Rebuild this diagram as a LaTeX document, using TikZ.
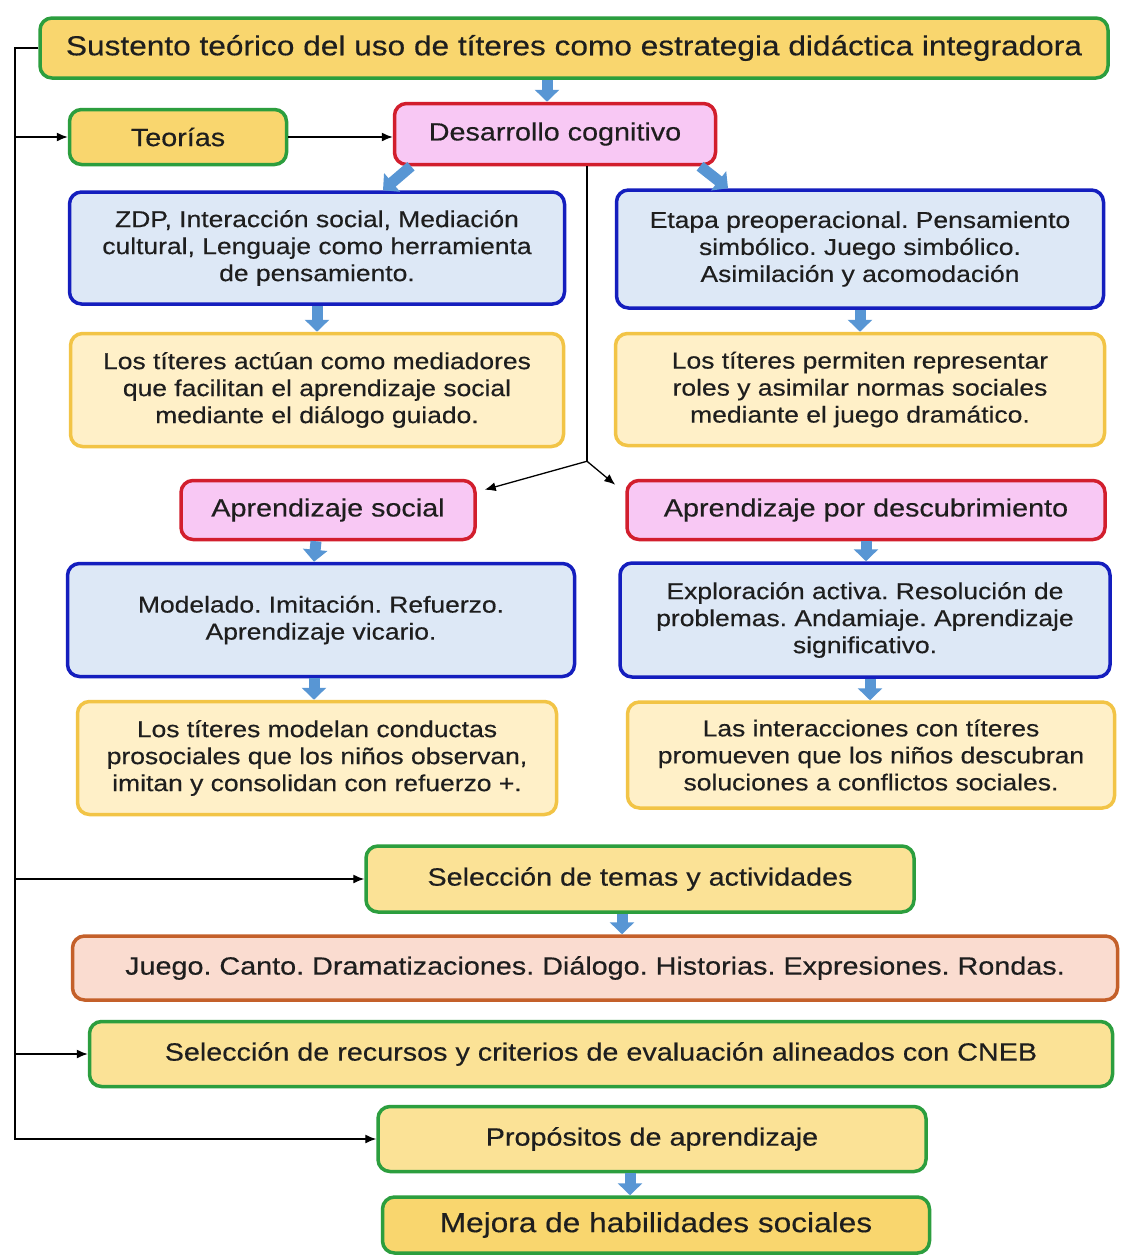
\documentclass[tikz,border=0pt]{standalone}
\usepackage{fontspec}
\setmainfont{Liberation Sans}[FakeStretch=1.15, FakeBold=0.4]
\usepackage{tikz}
\usetikzlibrary{arrows, arrows.meta, positioning, shapes}
\frenchspacing

\definecolor{boxgreen}{RGB}{44,158,62}
\definecolor{gold}{RGB}{249,214,110}
\definecolor{paleg}{RGB}{251,226,150}
\definecolor{boxred}{RGB}{210,30,45}
\definecolor{pink}{RGB}{248,200,244}
\definecolor{boxblue}{RGB}{20,30,190}
\definecolor{paleblue}{RGB}{221,232,246}
\definecolor{boxyel}{RGB}{242,196,70}
\definecolor{paleyel}{RGB}{255,240,200}
\definecolor{boxora}{RGB}{196,96,42}
\definecolor{peach}{RGB}{250,220,208}
\definecolor{fatblue}{RGB}{88,150,212}
\definecolor{txt}{RGB}{30,30,30}

\begin{document}
\begin{tikzpicture}[x=1pt, y=-1pt,
  box/.style      = {draw, rounded corners=12pt, line width=3.5pt, align=center, inner sep=0pt,
                     text=txt, font=\fontsize{25}{30}\selectfont},
  long/.style     = {font=\fontsize{23}{27}\selectfont},
  big/.style      = {font=\fontsize{27.5}{31}\selectfont},
  greenbox/.style = {box, draw=boxgreen, fill=gold},
  selbox/.style   = {box, draw=boxgreen, fill=paleg},
  redbox/.style   = {box, draw=boxred, fill=pink},
  bluebox/.style  = {box, long, draw=boxblue, fill=paleblue},
  ybox/.style     = {box, long, draw=boxyel, fill=paleyel},
  orabox/.style   = {box, draw=boxora, fill=peach},
  conn/.style     = {draw, line width=1.3pt, -{Latex[length=11pt, width=9pt]}},
  fat/.style      = {draw=fatblue, line width=11pt, -{Triangle[length=12pt, width=24pt]}}
]
\useasboundingbox [fill=white] (0,0) rectangle (1120,1256);

% theory part
\node [greenbox, big, minimum width=1068pt, minimum height=60pt ] (sust) at (574,48) {Sustento teórico del uso de títeres como estrategia didáctica integradora};
\node [greenbox, minimum width=217pt , minimum height=55pt ] (teo) at (178,137) {Teorías};
\node [redbox  , minimum width=321pt , minimum height=61pt ] (des) at (555,134) {Desarrollo cognitivo};

\node [bluebox , minimum width=495pt , minimum height=112pt] (zdp)   at (317,248) {ZDP, Interacción social, Mediación\\cultural, Lenguaje como herramienta\\de pensamiento.};
\node [bluebox , minimum width=487pt , minimum height=118pt] (etapa) at (860,249) {Etapa preoperacional. Pensamiento\\simbólico. Juego simbólico.\\Asimilación y acomodación};
\node [ybox    , minimum width=493pt , minimum height=113pt, below=26pt of zdp  ] (medi) {Los títeres actúan como mediadores\\que facilitan el aprendizaje social\\mediante el diálogo guiado.};
\node [ybox    , minimum width=489pt , minimum height=112pt, below=22pt of etapa] (roles) {Los títeres permiten representar\\roles y asimilar normas sociales\\mediante el juego dramático.};

\node [redbox  , minimum width=294pt , minimum height=59pt ] (apsoc)  at (328,510) {Aprendizaje social};
\node [redbox  , minimum width=478pt , minimum height=59pt ] (apdesc) at (866,510) {Aprendizaje por descubrimiento};

\node [bluebox , minimum width=507pt , minimum height=113pt] (model) at (321,620) {Modelado. Imitación. Refuerzo.\\Aprendizaje vicario.};
\node [bluebox , minimum width=490pt , minimum height=114pt] (explo) at (865,620) {Exploración activa. Resolución de\\problemas. Andamiaje. Aprendizaje\\significativo.};
\node [ybox    , minimum width=479pt , minimum height=113pt] (conduc) at (317,758) {Los títeres modelan conductas\\prosociales que los niños observan,\\imitan y consolidan con refuerzo +.};
\node [ybox    , minimum width=487pt , minimum height=106pt] (inter)  at (871,755) {Las interacciones con títeres\\promueven que los niños descubran\\soluciones a conflictos sociales.};

% planning part
\node [selbox  , minimum width=548pt , minimum height=66pt ] (temas) at (640,879)  {Selección de temas y actividades};
\node [orabox  , minimum width=1045pt, minimum height=64pt ] (juego) at (595,968)  {Juego. Canto. Dramatizaciones. Diálogo. Historias. Expresiones. Rondas.};
\node [selbox  , minimum width=1023pt, minimum height=65pt ] (recur) at (601,1054) {Selección de recursos y criterios de evaluación alineados con CNEB};
\node [selbox  , minimum width=548pt , minimum height=65pt ] (prop)  at (652,1139) {Propósitos de aprendizaje};
\node [greenbox, big, minimum width=547pt , minimum height=56pt ] (mejora) at (656,1225) {Mejora de habilidades sociales};

% left bus
\coordinate (bus) at (15,48);
\draw [conn] (sust.west) -- (bus) |- (prop.west);
\path [conn] (bus |- teo.west)   -- (teo.west);
\path [conn] (bus |- temas.west) -- (temas.west);
\path [conn] (bus |- recur.west) -- (recur.west);
\path [conn] (teo.east) -- (des.west |- teo.east);

% split below Desarrollo cognitivo
\draw [line width=1.3pt] ([xshift=32pt]des.south) -- ++(0,295) coordinate (split);
\path [conn] (split) -- ([xshift=8pt, yshift=-11pt]apsoc.north east);
\path [conn] (split) -- ([xshift=-10pt, yshift=-6pt]apdesc.north west);

% blue block arrows
\path [fat] ([xshift=-27pt]sust.south) -- ([xshift=-8pt]des.north);
\path [fat] ([xshift=-144pt]des.south) -- ([xshift=66pt]zdp.north);
\path [fat] ([xshift=145pt]des.south)  -- ([xshift=-132pt]etapa.north);
\path [fat] (zdp.south)    -- (medi.north);
\path [fat] (etapa.south)  -- (roles.north);
\path [fat] ([xshift=-12pt]apsoc.south) -- ([xshift=-7pt]model.north);
\path [fat] (apdesc.south) -- ([xshift=1pt]explo.north);
\path [fat] ([xshift=-7pt]model.south)  -- ([xshift=-3pt]conduc.north);
\path [fat] ([xshift=5pt]explo.south)   -- ([xshift=-1pt]inter.north);
\path [fat] ([xshift=-18pt]temas.south) -- ([xshift=27pt]juego.north);
\path [fat] ([xshift=-22pt]prop.south)  -- ([xshift=-26pt]mejora.north);

\end{tikzpicture}
\end{document}
